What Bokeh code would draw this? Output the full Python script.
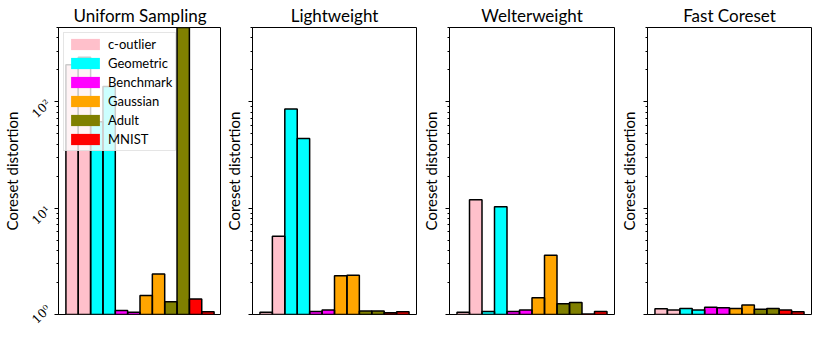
import math
from bokeh.plotting import figure
from bokeh.layouts import row
from bokeh.models import Range1d, FixedTicker, Legend, LegendItem, ColumnDataSource
from bokeh.embed import file_html
from bokeh.resources import INLINE

methods = ["Uniform Sampling", "Lightweight", "Welterweight", "Fast Coreset"]
datasets = ["c-outlier", "Geometric", "Benchmark", "Gaussian", "Adult", "MNIST"]
colors = ["pink", "cyan", "magenta", "orange", "olive", "red"]

uniform = [223, 263, 65, 139, 1.09, 1.05, 1.51, 2.41, 1.32, 900, 1.40, 1.06]
lightweight = [1.05, 5.43, 85.6, 45.2, 1.07, 1.10, 2.31, 2.34, 1.08, 1.08, 1.04, 1.06]
welterweight = [1.05, 12.0, 1.07, 10.3, 1.07, 1.10, 1.44, 3.6, 1.26, 1.30, 1.01, 1.07]
fast_coreset = [1.13, 1.10, 1.14, 1.10, 1.17, 1.16, 1.14, 1.23, 1.12, 1.14, 1.10, 1.06]
all_values = [uniform, lightweight, welterweight, fast_coreset]

y_ticks = [1, 10, 100]
y_tick_labels = ["10\u2070", "10\u00b9", "10\u00b2"]
y_minor = [m * 10 ** e for e in range(0, 3) for m in range(2, 10)]

FONT = "Lato"

frame_widths = [163, 164, 165, 164]
right_borders = [0, 2, 2, 2]

figs = []
for k, (name, vals) in enumerate(zip(methods, all_values)):
    p = figure(frame_width=frame_widths[k], frame_height=287, y_axis_type="log",
               x_axis_location=None,
               x_range=Range1d(-1.1, 12.1), y_range=Range1d(1, 500),
               output_backend="svg", toolbar_location=None,
               min_border_left=0, min_border_right=right_borders[k],
               min_border_top=27, min_border_bottom=12)
    p.title.text = name
    p.title.text_font = FONT
    p.title.text_font_size = "17px"
    p.title.text_font_style = "normal"
    p.title.text_color = "black"
    p.title.align = "center"
    p.title.standoff = 4
    p.title.offset = 0

    # fill of bars, one renderer per dataset (used by the legend)
    items = []
    for d, c in enumerate(colors):
        xs = [2 * d, 2 * d + 1]
        src = ColumnDataSource(dict(x=xs, top=vals[2 * d:2 * d + 2]))
        r = p.vbar(x="x", top="top", bottom=1, width=1.0, source=src,
                   fill_color=c, line_alpha=0)
        items.append(LegendItem(label=datasets[d], renderers=[r]))
    # black edges of all bars
    src_all = ColumnDataSource(dict(x=list(range(len(vals))), top=vals))
    p.vbar(x="x", top="top", bottom=1, width=1.0, source=src_all,
           fill_alpha=0, line_color="black", line_width=1.5)

    p.xgrid.visible = False
    p.ygrid.visible = False
    p.outline_line_color = "black"
    p.outline_line_width = 1
    p.background_fill_color = "white"
    p.border_fill_color = "white"

    ya = p.yaxis[0]
    ya.ticker = FixedTicker(ticks=y_ticks, minor_ticks=y_minor)
    ya.axis_label = "Coreset distortion"
    ya.axis_label_text_font = FONT
    ya.axis_label_text_font_size = "15px"
    ya.axis_label_text_font_style = "normal"
    ya.axis_label_text_color = "black"
    ya.axis_line_color = "black"
    ya.major_tick_out = 4
    ya.major_tick_in = 0
    ya.minor_tick_out = 2
    ya.minor_tick_in = 0
    ya.major_tick_line_color = "black"
    ya.minor_tick_line_color = "black"
    if k == 0:
        ya.major_label_overrides = {t: s for t, s in zip(y_ticks, y_tick_labels)}
        ya.major_label_orientation = math.pi / 4
        ya.major_label_text_font = "DejaVu Serif"
        ya.major_label_text_font_size = "12px"
        ya.major_label_text_font_style = "normal"
        ya.major_label_text_color = "black"
        ya.major_label_standoff = 6
        ya.axis_label_standoff = 0
    else:
        ya.major_label_overrides = {t: "" for t in y_ticks}
        ya.major_label_text_font_size = "0px"
        ya.major_label_standoff = 0
        ya.axis_label_standoff = 6

    if k == 0:
        leg = Legend(items=items, location="top_left")
        leg.label_text_font = FONT
        leg.label_text_font_size = "13px"
        leg.label_text_color = "black"
        leg.glyph_width = 36
        leg.glyph_height = 14
        leg.label_height = 16
        leg.spacing = 3
        leg.padding = 3
        leg.margin = 5
        leg.label_standoff = 5
        leg.background_fill_alpha = 0.8
        leg.border_line_color = "#cccccc"
        p.add_layout(leg)
    figs.append(p)

layout = row(*figs, spacing=0)
open("out.html", "w").write(file_html(layout, INLINE))
